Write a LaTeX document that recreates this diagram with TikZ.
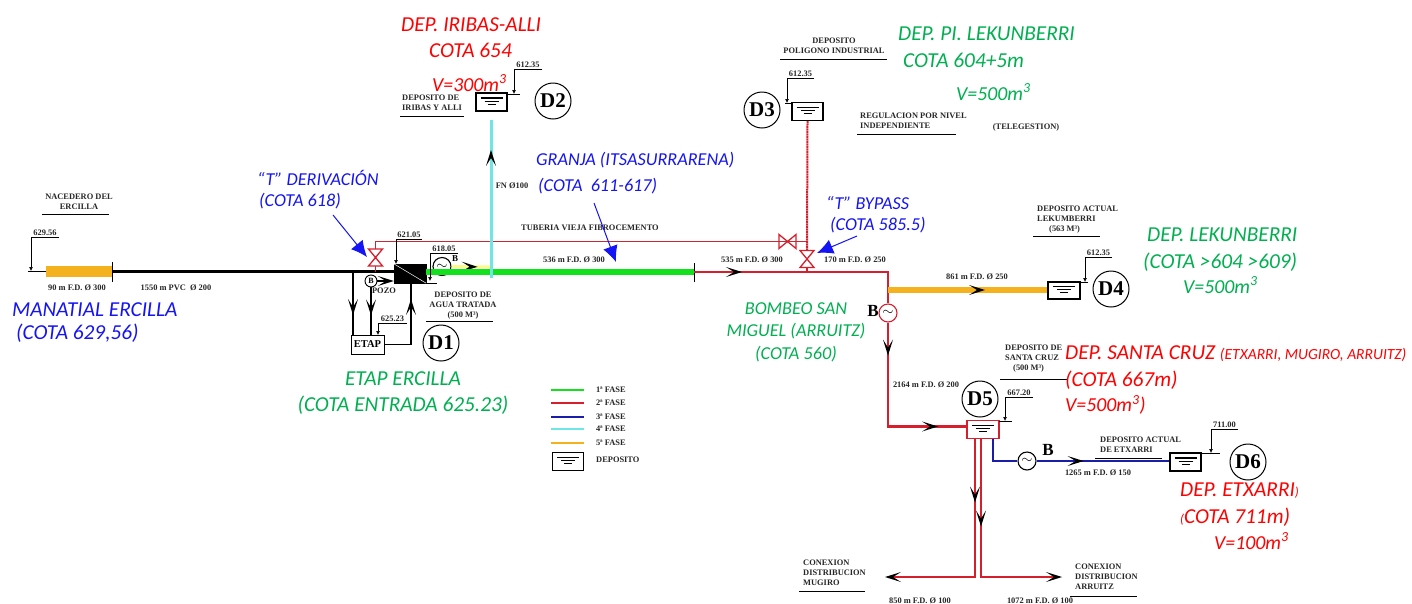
\documentclass[tikz,border=0pt]{standalone}
\usepackage{fontspec}
\setmainfont{Liberation Serif}
\newfontfamily\notefamily{Carlito}
\usetikzlibrary{arrows.meta}
\usetikzlibrary{decorations.markings}
\definecolor{fasegreen}{RGB}{20,225,30}
\definecolor{fasered}{RGB}{215,30,45}
\definecolor{tubered}{RGB}{200,40,50}
\definecolor{faseblue}{RGB}{25,30,170}
\definecolor{fasecyan}{RGB}{110,230,230}
\definecolor{faseorange}{RGB}{243,178,30}
\definecolor{notegreen}{RGB}{0,176,80}
\definecolor{noteblue}{RGB}{20,20,245}
\tikzset{
   note/.style={font=\notefamily\itshape\fontsize{21.3}{25}\selectfont,anchor=west,inner sep=0pt},
   notesmall/.style={note,font=\notefamily\itshape\fontsize{18.2}{22}\selectfont},
   notevol/.style={note,font=\notefamily\itshape\fontsize{19.8}{24}\selectfont},
   tag/.style={font=\bfseries\fontsize{8.4}{10}\selectfont,inner sep=0pt,align=left,text=black!85},
   idcircle/.style={circle,draw,line width=1pt,minimum size=36pt,inner sep=0pt,font=\bfseries\fontsize{21}{21}\selectfont},
   pump/.style={circle,draw,line width=1.1pt,minimum size=18pt,inner sep=0pt,font=\fontsize{15}{15}\selectfont},
   tankbox/.style={draw,minimum width=31pt,minimum height=18pt,inner sep=0pt,line width=1.2pt},
   pipe/.style={line width=#1,line cap=butt,line join=miter},
   pipe/.default=1.1pt,
   midarrow/.style={postaction={decorate,decoration={markings,
      mark=at position #1 with {\arrow{Stealth[length=16pt,width=10pt,inset=8pt,color=black,line width=0pt]}}}}},
   tipblack/.style={-{Stealth[length=16pt,width=10pt,inset=8pt,color=black,line width=0pt]}},
   pointer/.style={draw=noteblue,line width=1pt,-{Latex[length=16pt,width=15pt,color=noteblue]}},
   levelline/.style={line width=0.7pt},
   valve/.pic={
      \draw[fasered,line width=1.3pt] (-7,-8.5) -- (7,-8.5) -- (-7,8.5) -- (7,8.5) -- cycle;
      \coordinate (-a) at (0,-8.5);
      \coordinate (-b) at (0,8.5);
   },
}
% tank symbol: #1 options, #2 name, #3 centre
\newcommand{\tank}[3][]{
   \node[tankbox,#1] (#2) at (#3) {};
   \draw[line width=1.1pt] ([shift={(-11,-4)}]#2.center) -- ([shift={(11,-4)}]#2.center);
   \draw[line width=0.9pt] ([shift={(-7,-1)}]#2.center) -- ([shift={(7,-1)}]#2.center);
   \draw[line width=0.8pt] ([shift={(-4,2)}]#2.center) -- ([shift={(4,2)}]#2.center);
}
% level mark: #1 name, #2 x, #3 y top, #4 x end, #5 y bottom, #6 text
\newcommand{\levelmark}[6]{
   \node[tag] (#1) at ({(#2+#4)/2},#3-4.5) {#6};
   \draw[levelline,-{Latex[length=4pt,width=4pt]}] (#4,#3) -- (#2,#3) -- (#2,#5);
}
\begin{document}
\begin{tikzpicture}[x=1pt,y=-1pt]
   \useasboundingbox (0,0) rectangle (1412,603);

   % tanks
   \tank{td2}{491.5,102};
   \tank{td3}{807.5,111.5};
   \tank[line width=1.6pt,minimum height=17pt,minimum width=32pt]{td4}{1064,290.5};
   \tank[draw=fasered,line width=1.6pt,minimum width=32pt]{td5}{983,429.5};
   \tank[line width=1.6pt]{td6}{1185.5,462};
   \tank{tleg}{568,461.5};
   \node[fill=black,draw=black,minimum width=32pt,minimum height=19pt,inner sep=0pt] (td1) at (410,273.5) {};
   \draw[white,line width=0.5pt] (td1.north west) -- (td1.south east);
   \node[draw,line width=1pt,inner sep=0pt,minimum width=33pt,minimum height=19pt,font=\bfseries\fontsize{10.5}{10.5}\selectfont] (etap) at (367.5,344.5) {ETAP};

   % id circles
   \node[idcircle] (d1) at (441,343) {D1};
   \node[idcircle] (d2) at (553,101) {D2};
   \node[idcircle] (d3) at (762,110) {D3};
   \node[idcircle] (d4) at (1111,289) {D4};
   \node[idcircle] (d5) at (980,399) {D5};
   \node[idcircle] (d6) at (1248,462) {D6};

   % pumps and valves
   \node[pump] (pumpa) at (442,266.5) {$\sim$};
   \node[pump,draw=fasered] (pumpb) at (888,313) {$\sim$};
   \node[pump] (pumpc) at (1027,461) {$\sim$};
   \node[circle,draw,line width=0.9pt,minimum size=12pt,inner sep=0pt,font=\bfseries\fontsize{8}{8}\selectfont] (pozo) at (371,281) {B};
   \pic (va) at (375.5,257.5) {valve};
   \pic[rotate=90] (vb) at (787.5,241.5) {valve};
   \pic (vc) at (807,259) {valve};

   \coordinate (srca) at (28,271.5);
   \coordinate (srcb) at (46,271.5);
   \coordinate (srcc) at (112,271.5);
   \coordinate (teea) at (353,272);
   \coordinate (teeb) at (375.5,272);
   \coordinate (tube) at (375.5,241.5);
   \coordinate (phase) at (694,272);
   \coordinate (teec) at (807,272);
   \coordinate (elbow) at (888,272);
   \coordinate (branch) at (888,290);
   \coordinate (elbowb) at (888,426.5);
   \coordinate (wye) at (491,278);
   \coordinate (cyantop) at (491,120);
   \coordinate (yellowend) at (490,267);
   \coordinate (tubeend) at (807,241.5);
   \coordinate (mugiro) at (885,577);
   \coordinate (arruitz) at (1062,577);
   \coordinate (ptda) at (333,215);
   \coordinate (ptdb) at (367,257);
   \coordinate (ptga) at (594,203);
   \coordinate (ptgb) at (616,262);
   \coordinate (ptba) at (857,236);
   \coordinate (ptbb) at (817,253);

   % pipes
   \draw[pipe=1.6pt] (srca) -- (srcb);
   \draw[pipe=11pt,faseorange] (srcb) -- (srcc);
   \draw[pipe=1pt] (112,262) -- (112,282);
   \draw[pipe=2.2pt] (srcc) -- (td1.west |- srcc);
   \draw[pipe,midarrow=43pt] (teea) -- (teea |- etap.north);
   \draw[pipe,midarrow=28pt] (pozo.south) -- (pozo.south |- etap.north);
   \draw[pipe,tipblack] (pozo.east) -- (pozo.east -| td1.west);
   \draw[pipe,midarrow=72pt] (etap.east) -- (etap.east -| 411,0) -- (411,283);
   \draw[tubered,line width=1.1pt] (va-b) -- (teeb);
   \draw[tubered,line width=1.1pt] (va-a) -- (tube) -- (vb-b);
   \draw[tubered,line width=1.1pt] (vb-a) -- (tubeend);
   \draw[pipe=3pt,yellow!45,midarrow=26pt] (pumpa.east) -- (yellowend);
   \draw[pipe=5.5pt,fasegreen] (td1.east |- phase) -- (phase);
   \draw[pipe=3pt,fasecyan,midarrow=128pt] (wye) -- (cyantop);
   \draw[pipe=1pt] (694,263) -- (694,282);
   \draw[pipe=2.2pt,fasered,midarrow=48pt] (phase) -- (elbow) -- (pumpb.north);
   \draw[pipe=2.2pt,fasered,midarrow=33pt,midarrow=154pt] (pumpb.south) -- (elbowb) -- (td5.west |- elbowb);
   \draw[pipe=2pt,fasered,dash pattern=on 2pt off 0.5pt] (td3.south) -- (vc-a);
   \draw[pipe=1.5pt,fasered] (vc-b) -- (teec);
   \draw[pipe=6pt,faseorange,midarrow=97pt] (branch) -- (td4.west |- branch);
   \draw[pipe=2.5pt,fasered,midarrow=64pt,tipblack] (975,438.5) -- (975,577) -- (mugiro);
   \draw[pipe=2.5pt,fasered,midarrow=88pt,tipblack] (981,438.5) -- (981,577) -- (arruitz);
   \draw[pipe=2pt,faseblue] (993,438.5) -- (993,461) -- (pumpc.west);
   \draw[pipe=2pt,faseblue,midarrow=47pt] (pumpc.east) -- (td6.west |- pumpc);

   % level marks
   \levelmark{lma}{31}{237}{59}{271}{629.56}
   \levelmark{lmb}{396}{239}{422}{264}{621.05}
   \levelmark{lmc}{430}{253}{458}{281}{618.05}
   \levelmark{lmd}{378}{323}{407}{335}{625.23}
   \levelmark{lme}{514}{69}{542}{94}{612.35}
   \levelmark{lmf}{787}{78}{814}{103}{612.35}
   \levelmark{lmg}{1085}{257}{1112}{282}{612.35}
   \levelmark{lmh}{1005}{397}{1033}{421}{667.20}
   \levelmark{lmi}{1211}{429}{1238}{453}{711.00}
   \foreach \xa/\xb/\yy in {426/437/283,507/520/94,785/792/103,1080/1088/282,999/1012/421,1201/1220/453,
      42/109/214,426/493/321,400/464/116,780/887/59,857/956/134,1033/1100/236,1000/1068/379,1095/1162/458,
      799/865/591.5,1070/1137/596}
      \draw[levelline] (\xa,\yy) -- (\xb,\yy);

   % drawing labels
   \node[tag,align=center] (nacedero) at (79,201.5) {NACEDERO DEL\\ERCILLA};
   \node[tag] (tramoa) at (77,288) {90 m F.D. Ø 300};
   \node[tag] (tramob) at (176,288) {1550 m PVC\ \ Ø 200};
   \node[tag] (pozotag) at (384,290.5) {POZO};
   \node[tag,align=center] (tratada) at (463,306) {DEPOSITO DE\\AGUA TRATADA\\(500 M³)};
   \node[tag,anchor=west] (iribas) at (402,103) {DEPOSITO DE\\IRIBAS Y ALLI};
   \node[tag,align=center] (poligono) at (834,46) {DEPOSITO\\POLIGONO INDUSTRIAL};
   \node[tag,anchor=west] (regula) at (860,121) {REGULACION POR NIVEL\\INDEPENDIENTE};
   \node[tag] (telegestion) at (1026,127) {(TELEGESTION)};
   \node[tag] (fn) at (512,186) {FN Ø100};
   \node[tag] (vieja) at (590,228) {TUBERIA VIEJA FIBROCEMENTO};
   \node[tag] (tramoc) at (574,260) {536 m F.D. Ø 300};
   \node[tag] (tramod) at (752,260) {535 m F.D. Ø 300};
   \node[tag] (tramoe) at (855,260) {170 m F.D. Ø 250};
   \node[tag] (tramof) at (977,277) {861 m F.D. Ø 250};
   \node[tag] (tramog) at (926,385) {2164 m F.D. Ø 200};
   \node[tag] (tramoh) at (1098,473) {1265 m F.D. Ø 150};
   \node[tag] (tramoi) at (920,601) {850 m F.D. Ø 100};
   \node[tag] (tramoj) at (1040,601) {1072 m F.D. Ø 100};
   \node[tag,anchor=west] (actual) at (1037,220) {DEPOSITO ACTUAL\\LEKUMBERRI\\\hspace*{12pt}(563 M³)};
   \node[tag,anchor=west] (santacruz) at (1005,358.5) {DEPOSITO DE\\SANTA CRUZ\\\hspace*{8pt}(500 M³)};
   \node[tag,anchor=west] (etxarri) at (1100,444.5) {DEPOSITO ACTUAL\\DE ETXARRI};
   \node[tag,anchor=west] (conexa) at (803,573) {CONEXION\\DISTRIBUCION\\MUGIRO};
   \node[tag,anchor=west] (conexb) at (1075,577) {CONEXION\\DISTRIBUCION\\ARRUITZ};
   \node[font=\bfseries\fontsize{9}{9}\selectfont,inner sep=0pt] (bomba) at (455,259) {B};
   \node[font=\bfseries\fontsize{17}{17}\selectfont,inner sep=0pt] (bombb) at (873,311) {B};
   \node[font=\bfseries\fontsize{17}{17}\selectfont,inner sep=0pt] (bombc) at (1048,450) {B};

   % legend
   \foreach \yy/\col/\lab in {390/fasegreen/1ª FASE,403/fasered/2ª FASE,417/faseblue/3ª FASE,429/fasecyan/4ª FASE,443/faseorange/5ª FASE}
      \draw[pipe=2pt,\col] (551,\yy) -- (584,\yy) node[tag,anchor=west,xshift=11pt] {\lab};
   \node[tag,anchor=west] (legtank) at (596,460) {DEPOSITO};

   % blue pointers
   \draw[pointer] (ptda) -- (ptdb);
   \draw[pointer] (ptga) -- (ptgb);
   \draw[pointer] (ptba) -- (ptbb);

   % notes
   \node[note,text=noteblue] (mana) at (12,310) {MANATIAL ERCILLA};
   \node[note,text=noteblue] (manb) at (16,333) {(COTA 629,56)};
   \node[notesmall,text=noteblue] (dera) at (257,178) {“T” DERIVACIÓN};
   \node[notesmall,text=noteblue] (derb) at (259,201) {(COTA 618)};
   \node[notesmall,text=noteblue] (gra) at (536,160) {GRANJA (ITSASURRARENA)};
   \node[notesmall,text=noteblue] (grb) at (538,186) {(COTA\ \ 611-617)};
   \node[notesmall,text=noteblue] (bya) at (826,203) {“T” BYPASS};
   \node[notesmall,text=noteblue] (byb) at (830,225) {(COTA 585.5)};
   \node[note,text=notegreen,anchor=center] (eta) at (403,379) {ETAP ERCILLA};
   \node[note,text=notegreen,anchor=center] (etb) at (403,405) {(COTA ENTRADA 625.23)};
   \node[notesmall,text=notegreen,anchor=center] (boa) at (796,309) {BOMBEO SAN};
   \node[notesmall,text=notegreen,anchor=center] (bob) at (796,331) {MIGUEL (ARRUITZ)};
   \node[notesmall,text=notegreen,anchor=center] (boc) at (796,354) {(COTA 560)};
   \node[note,text=notegreen] (pia) at (898,34) {DEP. PI. LEKUNBERRI};
   \node[note,text=notegreen] (pib) at (903,60) {COTA 604+5m};
   \node[notevol,text=notegreen] (pic) at (956,92) {V=500m\textsuperscript{3}};
   \node[note,text=notegreen] (lea) at (1147,235) {DEP. LEKUNBERRI};
   \node[note,text=notegreen] (leb) at (1143,262) {(COTA >604 >609)};
   \node[notevol,text=notegreen] (lec) at (1183,285) {V=500m\textsuperscript{3}};
   \node[note,text=red] (ira) at (401,25) {DEP. IRIBAS-ALLI};
   \node[note,text=red] (irb) at (429,50) {COTA 654};
   \node[notevol,text=red] (irc) at (432,83) {V=300m\textsuperscript{3}};
   \node[note,text=red] (sca) at (1065,354) {DEP. SANTA CRUZ {\fontsize{15.5}{16}\selectfont (ETXARRI, MUGIRO, ARRUITZ)}};
   \node[note,text=red] (scb) at (1065,380) {(COTA 667m)};
   \node[notevol,text=red] (scc) at (1065,405) {V=500m\textsuperscript{3})};
   \node[note,text=red] (exa) at (1180,491) {DEP. ETXARRI{\fontsize{13}{13}\selectfont )}};
   \node[note,text=red] (exb) at (1180,517) {{\fontsize{13}{13}\selectfont (}COTA 711m)};
   \node[notevol,text=red] (exc) at (1214,541) {V=100m\textsuperscript{3}};
\end{tikzpicture}
\end{document}
